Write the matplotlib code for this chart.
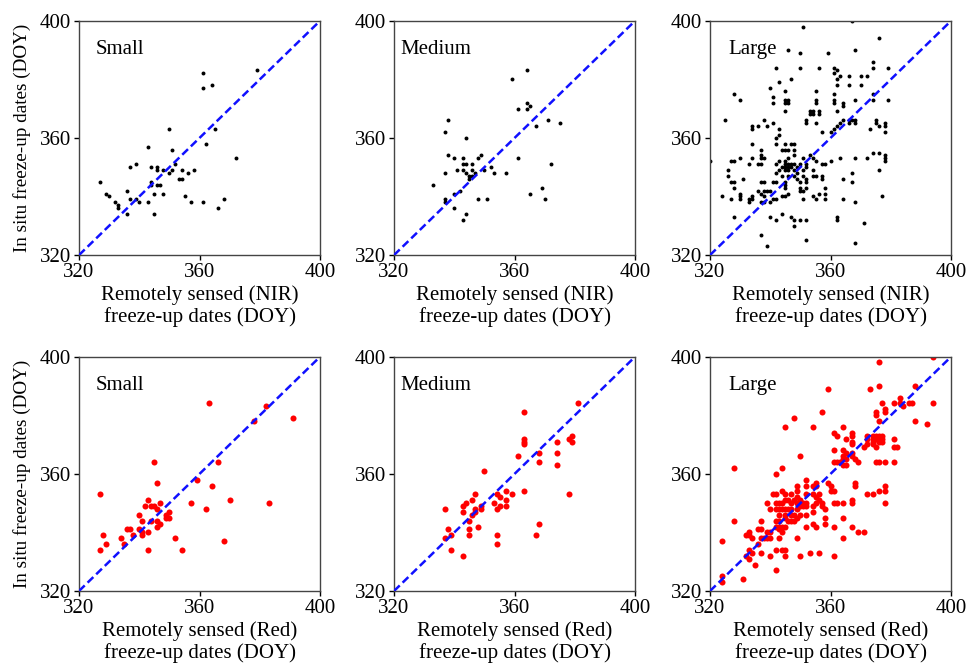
"""
Freeze-up date comparison: remotely sensed (NIR / Red) vs in situ, by lake size.
"""

import matplotlib

matplotlib.use("Agg")
import matplotlib.pyplot as plt

# ---- data (DOY) ----
sizes = ["Small", "Medium", "Large"]
bands = ["NIR", "Red"]
tick_vals = [320, 360, 400]

nir_small_x = [361, 379, 361, 364, 350, 365, 343, 362, 351, 372,
               337, 339, 344, 346, 346, 348, 352, 351, 350, 354,
               356, 358, 327, 344, 344, 346, 347, 353, 354, 329,
               330, 336, 345, 348, 355, 332, 333, 333, 337, 339,
               340, 343, 357, 361, 368, 366, 336, 345]
nir_small_y = [382, 383, 377, 378, 363, 363, 357, 358, 356, 353,
               350, 351, 350, 350, 349, 349, 351, 349, 348, 349,
               348, 349, 345, 345, 344, 344, 344, 346, 346, 341,
               340, 342, 341, 341, 340, 338, 337, 336, 339, 339,
               338, 338, 338, 338, 339, 336, 334, 334]

nir_medium_x = [364, 359, 361, 364, 364, 365, 338, 337, 344, 367,
                371, 375, 338, 340, 343, 343, 344, 346, 348, 349,
                352, 350, 337, 341, 343, 344, 346, 347, 345, 346,
                345, 353, 357, 361, 372, 333, 342, 340, 337, 337,
                348, 351, 365, 369, 370, 340, 344, 343]
nir_medium_y = [383, 380, 370, 370, 372, 371, 366, 362, 360, 364,
                366, 365, 354, 353, 353, 351, 351, 351, 353, 354,
                350, 349, 348, 349, 349, 348, 349, 348, 347, 347,
                346, 348, 348, 353, 351, 344, 342, 341, 339, 338,
                339, 339, 341, 343, 339, 336, 334, 332]

nir_large_x = [367, 351, 376, 346, 350, 359, 368, 374, 342, 350,
               356, 361, 362, 363, 361, 362, 362, 366, 370, 372,
               379, 374, 347, 343, 340, 366, 370, 361, 361, 361,
               328, 330, 341, 341, 345, 345, 345, 346, 346, 345,
               355, 355, 355, 364, 364, 368, 374, 374, 379, 353,
               353, 354, 354, 356, 356, 362, 325, 352, 352, 338,
               341, 334, 334, 336, 339, 355, 364, 366, 367, 368,
               366, 368, 363, 362, 361, 360, 375, 375, 376, 378,
               378, 378, 373, 343, 343, 357, 342, 342, 334, 345,
               347, 348, 344, 345, 346, 348, 348, 337, 337, 353,
               354, 355, 363, 368, 374, 376, 378, 378, 378, 372,
               327, 328, 330, 334, 333, 336, 337, 337, 338,
               342, 343, 344, 345, 345, 345, 346, 346, 346, 347, 347,
               348, 349, 350, 352, 352, 351, 348, 346, 345, 343,
               342, 344, 346, 348, 349, 351, 352, 352, 352, 351,
               350, 345, 345, 345, 342, 341, 340, 339, 338, 337,
               338, 336, 337, 338, 338, 337, 334, 334, 333, 333,
               330, 330, 326, 326, 327, 328, 328, 331, 324, 327,
               330, 357, 358, 360, 354, 354, 355, 357, 357, 358,
               358, 358, 364, 367, 367, 376, 364, 368, 377, 362,
               362, 371, 368, 352, 339, 337, 348, 340, 342, 347,
               348, 350, 352, 344, 328,
               351, 354, 356, 350, 350, 355, 346, 345, 344, 340, 341, 342, 320,
               351, 349]
nir_large_y = [400, 398, 394, 390, 389, 389, 390, 386, 384, 384,
               384, 384, 383, 381, 382, 380, 378, 381, 381, 381,
               384, 384, 380, 379, 377, 378, 378, 375, 373, 372,
               375, 373, 374, 372, 376, 373, 372, 373, 372, 369,
               376, 373, 372, 372, 371, 373, 375, 373, 373, 369,
               368, 369, 368, 369, 368, 369, 366, 366, 365, 366,
               365, 364, 363, 364, 364, 365, 366, 366, 366, 366,
               365, 365, 365, 364, 363, 362, 366, 365, 364, 365,
               364, 362, 363, 363, 361, 362, 360, 358, 358, 358,
               358, 358, 356, 356, 356, 356, 354, 356, 354, 354,
               353, 352, 353, 353, 355, 355, 354, 353, 352, 353,
               352, 352, 353, 353, 351, 351, 351, 353, 353,
               351, 352, 350, 352, 351, 350, 353, 351, 350, 351, 350,
               351, 350, 351, 351, 350, 349, 349, 349, 349, 349,
               348, 347, 347, 347, 346, 347, 346, 345, 343, 342,
               342, 345, 344, 343, 345, 345, 342, 342, 342, 345,
               345, 342, 341, 340, 338, 338, 340, 339, 339, 338,
               341, 340, 349, 347, 345, 345, 343, 346, 340, 339,
               339, 351, 351, 352, 349, 347, 347, 347, 346, 343,
               341, 339, 346, 348, 345, 349, 339, 338, 340, 333,
               332, 331, 324, 325, 323, 327, 330, 333, 332, 333,
               332, 332, 332, 334, 333,
               339, 340, 341, 345, 343, 339, 341, 340, 340, 338, 339, 339, 352,
               353, 348]

red_small_x = [363, 382, 378, 391, 345, 366, 346, 359, 364, 327,
               370, 383, 357, 362, 343, 342, 344, 345, 347, 346,
               350, 349, 350, 349, 340, 341, 344, 346, 347, 346,
               336, 337, 340, 341, 341, 343, 338, 334, 328, 329,
               335, 327, 343, 352, 354, 368]
red_small_y = [384, 383, 378, 379, 364, 364, 357, 358, 356, 353,
               351, 350, 350, 348, 351, 349, 349, 349, 350, 348,
               347, 346, 345, 345, 346, 344, 344, 344, 343, 342,
               341, 341, 341, 339, 340, 340, 339, 338, 339, 336,
               336, 334, 334, 338, 334, 337]

red_medium_x = [381, 363, 363, 363, 363, 374, 378, 379, 379, 361,
                368, 368, 374, 374, 350, 363, 378, 347, 346, 344,
                343, 343, 337, 347, 347, 346, 349, 349, 345, 348,
                353, 354, 355, 355, 354, 357, 357, 357, 359, 368,
                367, 354, 354, 345, 345, 338, 337, 339, 339, 343]
red_medium_y = [384, 381, 372, 371, 370, 371, 372, 373, 371, 366,
                367, 364, 367, 363, 361, 354, 353, 353, 351, 350,
                349, 347, 348, 348, 347, 346, 349, 348, 344, 342,
                350, 353, 352, 349, 348, 354, 351, 349, 353, 343,
                339, 339, 336, 341, 339, 341, 338, 339, 334, 332]

red_large_x = [394, 376, 376, 373, 359, 388, 357, 348, 345, 354,
               364, 377, 378, 375, 375, 376, 378, 381, 383, 383,
               386, 387, 394, 388, 392, 384, 361, 362, 367, 367,
               365, 367, 367, 372, 374, 375, 376, 377, 372, 374,
               375, 376, 377, 374, 376, 377, 372, 374, 371, 375,
               381, 381, 382, 361, 364, 364, 365, 365, 364, 363,
               362, 361, 364, 365, 367, 367, 368, 369, 375, 376,
               378, 381, 350, 328, 342, 344, 352, 352, 354, 355,
               355, 349, 359, 360, 368, 368, 378, 378, 378, 376,
               374, 372, 360, 361, 367, 367, 361, 362, 364, 341,
               342, 344, 345, 347, 349, 349, 352, 354, 355, 356,
               357, 339, 340, 342, 343, 344, 345, 346, 347, 348,
               349, 350, 351, 352, 342, 343, 344, 345, 346, 347,
               349, 350, 351, 352, 354, 355, 356, 357, 343, 345,
               347, 348, 350, 352, 354, 345, 346, 347, 348, 349,
               343, 342, 342, 343, 344, 345, 343, 344, 343, 340,
               340, 339, 337, 336, 338, 339, 337, 334, 333, 332,
               333, 336, 333, 334, 332, 333, 335, 337, 340, 345,
               345, 344, 342, 349, 352, 354, 355, 358, 358, 358,
               361, 364, 367, 369, 371, 364, 361, 356, 353, 350,
               342, 331, 324, 328, 324, 324, 337]
red_large_y = [400, 398, 390, 389, 389, 390, 381, 379, 376, 376,
               376, 384, 382, 381, 380, 378, 381, 384, 384, 386,
               384, 384, 384, 378, 377, 383, 374, 373, 373, 374,
               372, 371, 370, 373, 373, 373, 373, 373, 372, 372,
               372, 372, 372, 371, 371, 371, 370, 370, 369, 369,
               372, 369, 369, 368, 368, 366, 367, 365, 365, 364,
               364, 364, 363, 363, 367, 366, 365, 364, 364, 364,
               364, 364, 366, 362, 360, 362, 358, 356, 356, 356,
               357, 356, 357, 356, 357, 356, 356, 354, 350, 354,
               353, 353, 354, 354, 351, 350, 350, 350, 350, 353,
               353, 354, 353, 353, 354, 352, 353, 353, 352, 353,
               350, 350, 348, 350, 350, 350, 351, 351, 350, 351,
               350, 351, 350, 350, 348, 348, 348, 348, 348, 348,
               348, 349, 349, 349, 349, 350, 351, 349, 346, 346,
               346, 346, 346, 346, 347, 345, 344, 344, 344, 345,
               344, 344, 342, 342, 342, 342, 341, 340, 338, 340,
               338, 340, 341, 341, 338, 338, 338, 338, 340, 339,
               339, 336, 334, 333, 332, 331, 329, 333, 332, 332,
               334, 334, 334, 338, 342, 343, 342, 348, 345, 343,
               342, 345, 342, 340, 340, 338, 332, 333, 333, 332,
               327, 324, 337, 344, 325, 323, 344]

panels = {
    ("NIR", "Small"): (nir_small_x, nir_small_y),
    ("NIR", "Medium"): (nir_medium_x, nir_medium_y),
    ("NIR", "Large"): (nir_large_x, nir_large_y),
    ("Red", "Small"): (red_small_x, red_small_y),
    ("Red", "Medium"): (red_medium_x, red_medium_y),
    ("Red", "Large"): (red_large_x, red_large_y),
}

plt.rcParams["font.family"] = ["Liberation Serif", "DejaVu Serif"]
plt.rcParams["font.size"] = 15

fig = plt.figure(figsize=(9.69, 6.66), dpi=100)

lefts = [0.0815, 0.4066, 0.7327]
bottoms = {"NIR": 0.617, "Red": 0.1126}
width, height = 0.249, 0.352
label_x = {"Small": 0.07, "Medium": 0.025, "Large": 0.075}

for band in bands:
    for i, size in enumerate(sizes):
        ax = fig.add_axes([lefts[i], bottoms[band], width, height])
        xs, ys = panels[(band, size)]
        if band == "NIR":
            ax.scatter(xs, ys, s=8, color="black", linewidths=0, zorder=2)
        else:
            ax.scatter(xs, ys, s=19, color="#ff0000", linewidths=0, zorder=2)
        ax.plot([320, 400], [320, 400], color="#1010ff", lw=1.8,
                dashes=(3.2, 1.6), zorder=3)

        ax.set_xlim(320, 400)
        ax.set_ylim(320, 400)
        ax.set_xticks(tick_vals)
        ax.set_yticks(tick_vals)
        ax.tick_params(direction="out", length=3.5, width=1, pad=2,
                       colors="black", labelsize=15)
        for sp in ax.spines.values():
            sp.set_color("#444444")
            sp.set_linewidth(1.0)

        ax.text(label_x[size], 0.877, size, transform=ax.transAxes,
                ha="left", va="center", fontsize=15)

        ax.set_xlabel(f"Remotely sensed ({band})\nfreeze-up dates (DOY)",
                      fontsize=15, linespacing=1.1)
        ax.xaxis.set_label_coords(0.5, -0.13)
        ax.xaxis.label.set_va("top")
        if i == 0:
            ax.set_ylabel("In situ freeze-up dates (DOY)", fontsize=13.8)
            ax.yaxis.set_label_coords(-0.20, 0.5)

fig.savefig("out.png", dpi=100)
